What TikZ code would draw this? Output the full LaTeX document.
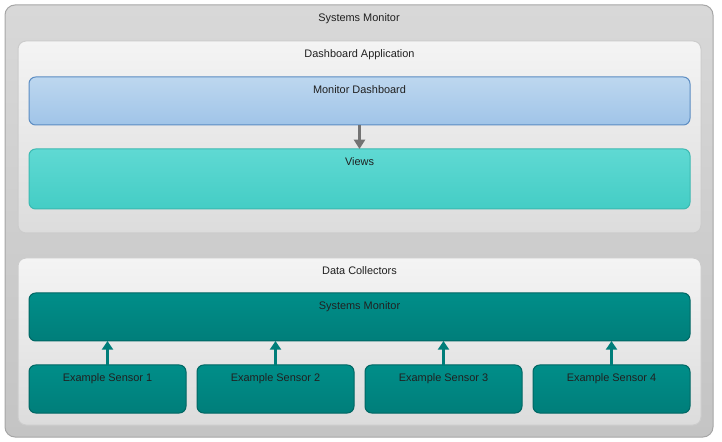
\documentclass[tikz,border=0pt]{standalone}
\usepackage{fontspec}
\setmainfont{Liberation Sans}
\usepackage{xcolor}
\usetikzlibrary{positioning, arrows.meta}
\definecolor{outertop}{HTML}{D8D8D8}
\definecolor{outerbot}{HTML}{C4C4C4}
\definecolor{outerline}{HTML}{A6A6A6}
\definecolor{paneltop}{HTML}{F4F4F4}
\definecolor{panelbot}{HTML}{DCDCDC}
\definecolor{panelline}{HTML}{CCCCCC}
\definecolor{dashtop}{HTML}{BDD7EF}
\definecolor{dashbot}{HTML}{A0C4E8}
\definecolor{dashline}{HTML}{5B8CC2}
\definecolor{viewtop}{HTML}{5FD9D3}
\definecolor{viewbot}{HTML}{44CDC5}
\definecolor{viewline}{HTML}{3CB9B1}
\definecolor{tealtop}{HTML}{008E89}
\definecolor{tealbot}{HTML}{007E7A}
\definecolor{tealline}{HTML}{006663}
\definecolor{txtdark}{HTML}{202020}
\tikzstyle{group} = [rectangle, rounded corners=7.5pt, draw=outerline, line width=0.75pt, top color=outertop, bottom color=outerbot, anchor=north west, inner sep=0pt, outer sep=0pt]
\tikzstyle{panel} = [rectangle, rounded corners=6pt, draw=panelline, line width=0.75pt, top color=paneltop, bottom color=panelbot, anchor=north west, inner sep=0pt, outer sep=0pt]
\tikzstyle{box} = [rectangle, rounded corners=5pt, line width=0.75pt, anchor=north west, inner sep=0pt, outer sep=0pt, minimum height=36pt]
\tikzstyle{dashbox} = [box, draw=dashline, top color=dashtop, bottom color=dashbot]
\tikzstyle{viewbox} = [box, draw=viewline, top color=viewtop, bottom color=viewbot]
\tikzstyle{tealbox} = [box, draw=tealline, top color=tealtop, bottom color=tealbot]
\tikzstyle{title} = [anchor=base, yshift=-12.75pt, inner sep=0pt, text=txtdark, font=\fontsize{8.2}{10}\selectfont]
\tikzstyle{flow} = [-{Triangle[width=8.25pt,length=7pt]}, line width=2pt, draw=black!55]
\tikzstyle{feed} = [-{Triangle[width=8.25pt,length=6.5pt]}, line width=1.6pt, draw=tealbot]

\begin{document}
\begin{tikzpicture}[x=0.75pt, y=-0.75pt, node distance=18pt and 8.25pt]
\useasboundingbox (0,0) rectangle (722,442);

\node[group, minimum width=531pt, minimum height=324pt, label={[title]north:Systems Monitor}] (sysmon) at (5,5) {};

\node[panel, minimum width=512.25pt, minimum height=144pt, label={[title]north:Dashboard Application}] (dashapp) at (18,41) {};
\node[panel, minimum width=512.25pt, minimum height=125.25pt, label={[title]north:Data Collectors}] (collect) at (18,258) {};

\node[dashbox, minimum width=495.75pt, label={[title]north:Monitor Dashboard}] (dash) at (29,77) {};
\node[viewbox, minimum width=495.75pt, minimum height=45pt, below=of dash, label={[title]north:Views}] (views) {};

\node[tealbox, minimum width=495.75pt, label={[title]north:Systems Monitor}] (mon) at (29,293) {};

\node[tealbox, minimum width=117.75pt, label={[title]north:Example Sensor 1}] (s1) at (29,365) {};
\node[tealbox, minimum width=117.75pt, right=of s1, label={[title]north:Example Sensor 2}] (s2) {};
\node[tealbox, minimum width=117.75pt, right=of s2, label={[title]north:Example Sensor 3}] (s3) {};
\node[tealbox, minimum width=117.75pt, right=of s3, label={[title]north:Example Sensor 4}] (s4) {};

% arrows
\draw[flow] (dash) -- (views);
\foreach \s in {s1,s2,s3,s4}
  \draw[feed] (\s) -- (\s |- mon.south);

\end{tikzpicture}
\end{document}
